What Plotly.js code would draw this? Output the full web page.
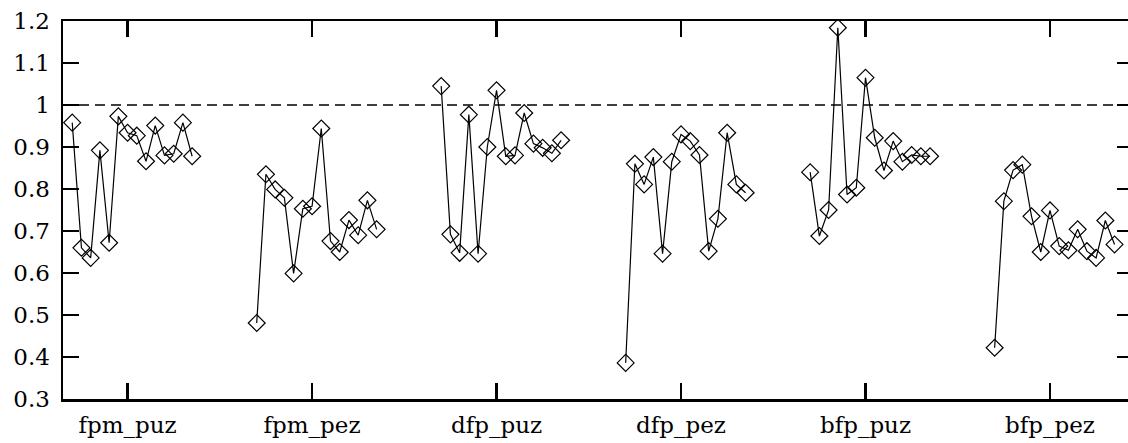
<!DOCTYPE html>
<html>
<head>
<meta charset="utf-8">
<script src="https://cdn.plot.ly/plotly-3.0.1.min.js"></script>
<style>
html, body { margin: 0; padding: 0; overflow: hidden; background: #fff; }
#chart { width: 1133px; height: 443px; }
</style>
</head>
<body>
<div id="chart"></div>
<script>
// Category names (tick labels)
const categories = ["fpm_puz", "fpm_pez", "dfp_puz", "dfp_pez", "bfp_puz", "bfp_pez"];

// Series values: 14 runs per category
const fpm_puz = [0.958, 0.660, 0.636, 0.892, 0.672, 0.973, 0.934, 0.927, 0.866, 0.951, 0.880, 0.884, 0.958, 0.878];
const fpm_pez = [0.481, 0.835, 0.799, 0.779, 0.599, 0.753, 0.759, 0.944, 0.676, 0.650, 0.726, 0.690, 0.773, 0.704];
const dfp_puz = [1.045, 0.692, 0.648, 0.977, 0.646, 0.900, 1.035, 0.878, 0.880, 0.981, 0.908, 0.898, 0.885, 0.916];
const dfp_pez = [0.386, 0.860, 0.811, 0.876, 0.646, 0.865, 0.930, 0.914, 0.881, 0.652, 0.729, 0.934, 0.811, 0.791];
const bfp_puz = [0.840, 0.688, 0.750, 1.184, 0.787, 0.803, 1.065, 0.922, 0.844, 0.914, 0.865, 0.881, 0.878, 0.878];
const bfp_pez = [0.422, 0.771, 0.845, 0.858, 0.735, 0.650, 0.749, 0.664, 0.654, 0.704, 0.652, 0.636, 0.725, 0.668];

const seriesList = [fpm_puz, fpm_pez, dfp_puz, dfp_pez, bfp_puz, bfp_pez];

// y tick values and labels
const yTickVals = [0.3, 0.4, 0.5, 0.6, 0.7, 0.8, 0.9, 1.0, 1.1, 1.2];
const yTickText = ["0.3", "0.4", "0.5", "0.6", "0.7", "0.8", "0.9", "1", "1.1", "1.2"];
const referenceLevel = 1.0;

const traces = seriesList.map((vals, i) => ({
  type: 'scatter',
  mode: 'lines+markers',
  x: vals.map((_, j) => i - 0.3 + 0.05 * j),
  y: vals,
  line: { color: '#000', width: 1.2 },
  marker: { symbol: 'diamond-open', size: 13, color: '#000', line: { width: 1.2, color: '#000' } },
  showlegend: false,
  hoverinfo: 'y'
}));

const font = { family: 'DejaVu Serif', size: 23, color: '#000000' };

const layout = {
  width: 1133,
  height: 443,
  margin: { l: 63, r: 0, t: 21, b: 44 },
  paper_bgcolor: '#ffffff',
  plot_bgcolor: '#ffffff',
  font: font,
  showlegend: false,
  xaxis: {
    range: [-0.35, 5.45],
    tickmode: 'array',
    tickvals: categories.map((_, i) => i),
    ticktext: categories,
    ticks: 'inside',
    ticklen: 16,
    tickwidth: 2.5,
    tickcolor: '#000000',
    showline: true,
    linewidth: 2.5,
    linecolor: '#000000',
    mirror: 'ticks',
    showgrid: false,
    zeroline: false,
    tickfont: font,
    ticklabelstandoff: 4
  },
  yaxis: {
    range: [0.3, 1.2],
    tickmode: 'array',
    tickvals: yTickVals,
    ticktext: yTickText,
    ticks: 'inside',
    ticklen: 16,
    tickwidth: 2.5,
    tickcolor: '#000000',
    showline: true,
    linewidth: 2.5,
    linecolor: '#000000',
    mirror: 'ticks',
    showgrid: false,
    zeroline: false,
    tickfont: font,
    ticklabelstandoff: 6
  },
  shapes: [{
    type: 'line', xref: 'paper', x0: 0, x1: 1, yref: 'y', y0: referenceLevel, y1: referenceLevel,
    line: { color: '#000000', width: 1.5, dash: '10px,6px' }
  }]
};

Plotly.newPlot('chart', traces, layout, { staticPlot: true, displayModeBar: false });
</script>
</body>
</html>
